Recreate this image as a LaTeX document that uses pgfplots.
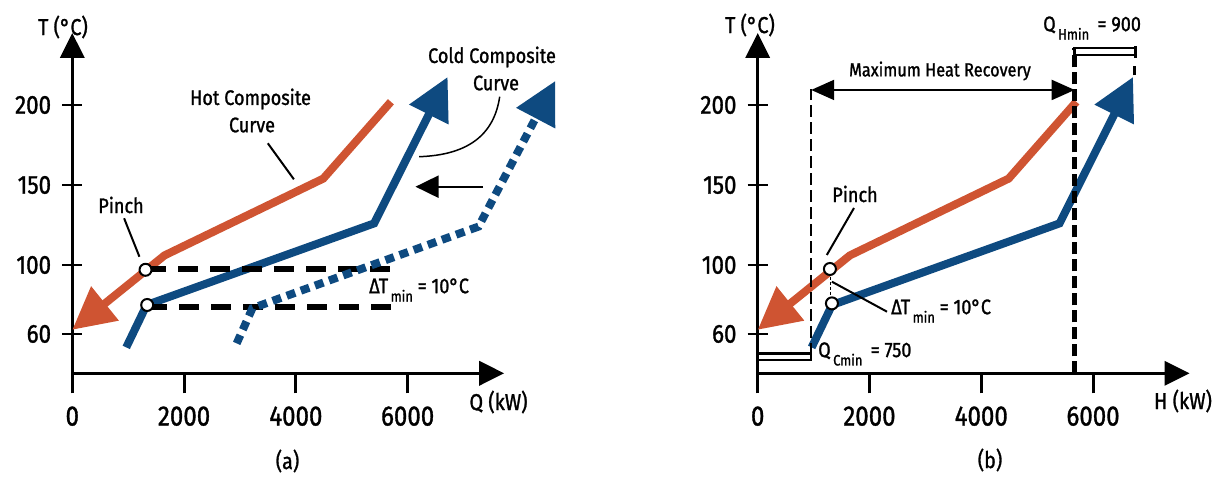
\documentclass[border=0pt]{standalone}
\usepackage{pgfplots}
\pgfplotsset{compat=1.18}
\usepackage{fontspec}
\setmainfont{Fira Sans}[FakeStretch=0.86, FakeBold=1.2]
\usetikzlibrary{arrows.meta}
\definecolor{hot}{RGB}{207,84,50}
\definecolor{cold}{RGB}{14,74,128}
\newcommand\fsz[1]{\fontsize{#1}{#1}\selectfont}
\pgfplotsset{
  myaxis/.style={
    scale only axis, width=431.9pt, height=340.3pt,
    xmin=0, xmax=7727, ymin=32.3, ymax=245,
    axis lines=left,
    axis line style={line width=3.5pt, -{Triangle[length=25pt,width=24pt]}},
    xtick={0,2000,4000,6000}, xticklabels={0,2000,4000,6000},
    ytick={56.9,100,150,200}, yticklabels={60,100,150,200},
    xtick align=outside, ytick align=center,
    major tick length=20pt,
    xtick style={black, line width=3pt},
    ytick style={black, line width=2pt},
    xticklabel style={font=\fsz{28}, inner sep=0pt, anchor=north, yshift=-13pt},
    yticklabel style={font=\fsz{26}, inner sep=0pt, anchor=east, xshift=-11pt},
    clip=false,
  },
  hotc/.style={hot, line width=8pt, -{Triangle[length=42pt,width=42pt]}},
  coldc/.style={cold, line width=8pt, -{Triangle[length=42pt,width=42pt]}},
  pinchpt/.style={only marks, mark=*, mark size=6pt, mark options={fill=white, draw=black, line width=2pt}},
}
\begin{document}
\begin{tikzpicture}[x=1pt,y=1pt]
\useasboundingbox (0,0) rectangle (1226,479);
% ---------------- (a)
\begin{axis}[myaxis, at={(72.3pt,105.7pt)}, anchor=south west]
\addplot[hotc] coordinates {(5700,202)(4490,154)(1650,106)(0,59.5)};
\addplot[coldc] coordinates {(965,48.5)(1330,75)(5400,126)(6715,217.5)};
\addplot[black, line width=6pt, dash pattern=on 20pt off 12pt] coordinates {(1320,97.7)(5750,97.7)};
\addplot[black, line width=6pt, dash pattern=on 20pt off 12pt] coordinates {(1340,73.8)(5770,73.8)};
\addplot[coldc, dash pattern=on 9pt off 6pt] coordinates {(2941,51)(3223,73)(7268,124)(8640,215)};
\addplot[pinchpt] coordinates {(1310,97)(1340,75)};
\end{axis}
% ---------------- (b)
\begin{axis}[myaxis, at={(757.7pt,105.7pt)}, anchor=south west]
\addplot[hotc] coordinates {(5700,202)(4490,154)(1650,106)(0,59.5)};
\addplot[coldc] coordinates {(965,48.5)(1330,75)(5400,126)(6715,217.5)};
\draw[line width=2.5pt, dash pattern=on 12pt off 5pt] (axis cs:957,44) -- (axis cs:957,210);
\draw[line width=5pt, dash pattern=on 12pt off 5pt] (axis cs:5671,32.3) -- (axis cs:5671,235.6);
\draw[line width=2pt, {Triangle[length=23pt,width=20pt]}-{Triangle[length=23pt,width=20pt]}] (axis cs:957,209.4) -- (axis cs:5671,209.4);
\draw[line width=2.5pt, fill=white] (axis cs:5671,231.3) rectangle (axis cs:6758,235.6);
\draw[line width=2.5pt] (axis cs:6758,229.5) -- (axis cs:6758,237);
\draw[line width=3pt] (axis cs:6745,218.5) -- (axis cs:6745,224.4);
\draw[line width=2.5pt, fill=white] (axis cs:0,40.6) rectangle (axis cs:957,44.8);
\draw[line width=1.2pt, dash pattern=on 3pt off 2pt] (axis cs:1305,92.7) -- (axis cs:1305,78);
\addplot[pinchpt] coordinates {(1292,97.5)(1328,76)};
\end{axis}
% ---------------- annotations (pixel coordinates, y downward)
\begin{scope}[yshift=479pt, yscale=-1]
\node[font=\fsz{23}] at (63,27) {T (°C)};
\node[font=\fsz{23}] at (750,25) {T (°C)};
\node[font=\fsz{23}] at (498.5,402) {Q (kW)};
\node[font=\fsz{23}] at (1183,401) {H (kW)};
\node[font=\fsz{23}] at (287.5,461) {(a)};
\node[font=\fsz{23}] at (990,460) {(b)};
% left
\node[font=\fsz{21}] at (250.5,99) {Hot Composite};
\node[font=\fsz{21}] at (252,125) {Curve};
\draw[line width=2pt] (267.8,143.3) -- (293.9,179.3);
\node[font=\fsz{21}] at (492,57) {Cold Composite};
\node[font=\fsz{21}] at (496,83) {Curve};
\draw[line width=1.5pt] (499.7,96.7) .. controls (494,135) and (468,155) .. (419.2,156.7);
\draw[line width=2pt, -{Triangle[length=23pt,width=22pt]}] (483.2,186.7) -- (415.5,186.7);
\node[font=\fsz{21}] at (121,205) {Pinch};
\draw[line width=2pt] (124.1,218.3) -- (139.4,256.7);
\node[font=\fsz{21}, anchor=west, inner sep=0pt] at (369,290) {ΔT\raisebox{-0.4em}{\fsz{15}\,min} = 10°C};
% right
\node[font=\fsz{21}] at (855,194) {Pinch};
\draw[line width=2pt] (854,208) -- (826.8,255);
\draw[line width=2pt] (831.9,281.7) -- (887,311.7);
\node[font=\fsz{21}, anchor=west, inner sep=0pt] at (891,311) {ΔT\raisebox{-0.4em}{\fsz{15}\,min} = 10°C};
\node[font=\fsz{19}] at (940,71) {Maximum Heat Recovery};
\node[font=\fsz{21}, anchor=west, inner sep=0pt] at (818,354) {Q\raisebox{-0.4em}{\fsz{15}\,Cmin}\, = 750};
\node[font=\fsz{21}, anchor=west, inner sep=0pt] at (1043,28) {Q\raisebox{-0.4em}{\fsz{15}\,Hmin}\, = 900};
\end{scope}
\end{tikzpicture}
\end{document}
